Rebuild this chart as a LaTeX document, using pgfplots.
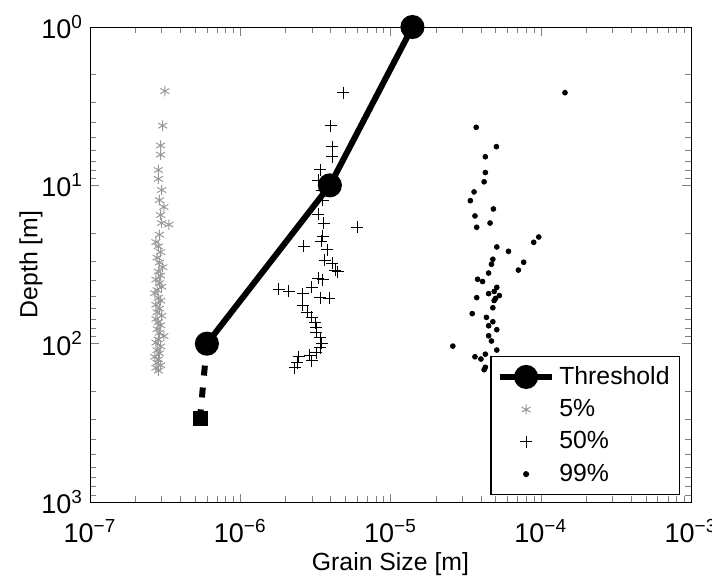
\documentclass[border=0pt]{standalone}
\usepackage{fontspec}
\setmainfont{Liberation Sans}
\usepackage{pgfplots}
\pgfplotsset{compat=1.18}
\begin{document}
\begin{tikzpicture}
\begin{axis}[
  name=ax,
  xmode=log, ymode=log, y dir=reverse,
  scale only axis, width=300.5pt, height=237.5pt,
  xmin=1e-7, xmax=1e-3, ymin=1, ymax=1000,
  tick align=inside,
  log number format basis/.code 2 args={\pgfmathparse{int(round(#2))}\let\myexp\pgfmathresult #1\textsuperscript{\ifnum\myexp<0 −\number\numexpr-\myexp\relax\else\myexp\fi}},
  tick label style={font=\fontsize{13.5}{16}\selectfont},
  xticklabel style={yshift=-5pt},
  label style={font=\fontsize{12.4}{15}\selectfont},
  xlabel={Grain Size [m]}, ylabel={Depth [m]},
  ylabel shift=-7.5pt, xlabel shift=-2pt,
  legend style={at={(0.982,0.015)}, anchor=south east, draw=black, line width=0.6pt,
    font=\fontsize{12.4}{15}\selectfont, inner xsep=3pt, inner ysep=3pt,
    row sep=2pt, cells={anchor=west}},
  legend cell align=left,
  legend image code/.code={\draw[mark repeat=2,mark phase=2,#1] plot coordinates {(0cm,0cm) (0.46cm,0cm) (0.92cm,0cm)};},
]
\addplot[black, line width=3pt, mark=*, mark size=4.5pt] coordinates {(1.4e-5,1) (3.95e-6,10) (6.0e-7,100)};
\addlegendentry{Threshold}
\addplot[only marks, mark=asterisk, mark size=2.6pt, color=black!40, mark options={line width=0.5pt}] coordinates {
(3.15e-7,2.54) (3.05e-7,4.2) (2.95e-7,5.6) (2.95e-7,6.4) (2.85e-7,8.0) (2.85e-7,9.1)
(3.0e-7,10.7) (2.9e-7,12.4) (3.1e-7,13.7) (2.95e-7,15.4) (3.0e-7,17.3) (3.35e-7,17.7)
(2.9e-7,20.5) (2.75e-7,22.8) (2.85e-7,24.3) (2.95e-7,26.4) (2.8e-7,28.6) (2.9e-7,30.7)
(3.05e-7,32.9) (2.85e-7,35.0) (2.95e-7,37.2) (2.75e-7,39.4) (2.9e-7,41.5) (3.0e-7,43.7)
(2.8e-7,45.9) (2.7e-7,48.0) (2.85e-7,51.3) (2.95e-7,53.5) (2.75e-7,56.8) (2.9e-7,60.0)
(2.8e-7,63.3) (3.0e-7,66.6) (2.75e-7,69.9) (2.85e-7,73.2) (2.95e-7,76.5) (2.8e-7,80.9)
(2.9e-7,85.3) (3.1e-7,89.6) (2.85e-7,94.0) (2.75e-7,98.5) (2.95e-7,104) (2.8e-7,110)
(2.9e-7,115) (2.7e-7,121) (2.85e-7,126) (2.8e-7,132) (2.95e-7,137) (2.75e-7,142) (2.85e-7,148)
};
\addlegendentry{5\%}
\addplot[only marks, mark=+, mark size=3pt, color=black, mark options={line width=0.5pt}] coordinates {
(4.84e-6,2.6) (4.0e-6,4.2) (4.1e-6,5.7) (4.1e-6,6.6) (3.4e-6,8.0) (3.3e-6,9.3)
(3.5e-6,10.8) (3.55e-6,12.4) (3.3e-6,15.2) (3.6e-6,17.3) (6.0e-6,18.4) (3.55e-6,20.9)
(3.45e-6,22.5) (2.65e-6,24.2) (3.8e-6,25.6) (3.65e-6,29.7) (4.1e-6,31) (4.3e-6,34.3)
(4.45e-6,35.2) (3.3e-6,38.5) (3.55e-6,39.6) (3.0e-6,44) (1.8e-6,45.4) (2.1e-6,46.8)
(2.6e-6,48.4) (3.4e-6,51.2) (3.9e-6,51.7) (2.6e-6,57.3) (2.8e-6,63.5) (3.0e-6,68.3)
(3.15e-6,73.9) (3.2e-6,79.4) (3.2e-6,85) (3.4e-6,91.7) (3.5e-6,99.5) (3.4e-6,106)
(3.2e-6,114) (2.9e-6,118) (2.45e-6,121) (3.0e-6,128) (2.4e-6,132) (2.3e-6,142)
};
\addlegendentry{50\%}
\addplot[only marks, mark=*, mark size=1.2pt, color=black] coordinates {
(1.45e-4,2.6) (3.72e-5,4.3) (5.07e-5,5.7) (4.28e-5,6.6) (4.28e-5,8.3) (4.2e-5,9.5)
(3.6e-5,11.0) (3.4e-5,12.5) (4.84e-5,14.1) (3.65e-5,15.6) (4.6e-5,17.3) (3.75e-5,18.4)
(9.7e-5,21.2) (8.98e-5,22.9) (5.1e-5,24.5) (6.1e-5,26.1) (4.8e-5,29.3) (4.7e-5,31.5)
(7.7e-5,30.6) (7.1e-5,34.3) (4.5e-5,35.8) (3.8e-5,39.2) (4.1e-5,40.5) (5.1e-5,44.1)
(4.9e-5,46.8) (4.5e-5,48.3) (5.3e-5,49.7) (3.75e-5,51.2) (5.0e-5,51.8) (4.9e-5,53.4)
(4.8e-5,59.3) (3.5e-5,64.6) (4.35e-5,68.2) (4.8e-5,72.7) (4.5e-5,77.1) (5.1e-5,81.6)
(4.5e-5,89.2) (4.7e-5,96.2) (2.6e-5,103.6) (5.1e-5,109.7) (4.28e-5,116.5) (3.65e-5,121)
(4.0e-5,125) (4.28e-5,141) (4.2e-5,146)
};
\addlegendentry{99\%}
\addplot[black, line width=3pt, dash pattern=on 5pt off 6pt, forget plot] coordinates {(6.0e-7,100) (5.4e-7,295)};
\addplot[black, only marks, mark=square*, mark size=3.5pt, forget plot] coordinates {(5.4e-7,295)};
\end{axis}
\pgfresetboundingbox
\path[use as bounding box] ([shift={(-45pt,-38pt)}]ax.south west) rectangle ([shift={(10.5pt,13.5pt)}]ax.north east);
\end{tikzpicture}
\end{document}
